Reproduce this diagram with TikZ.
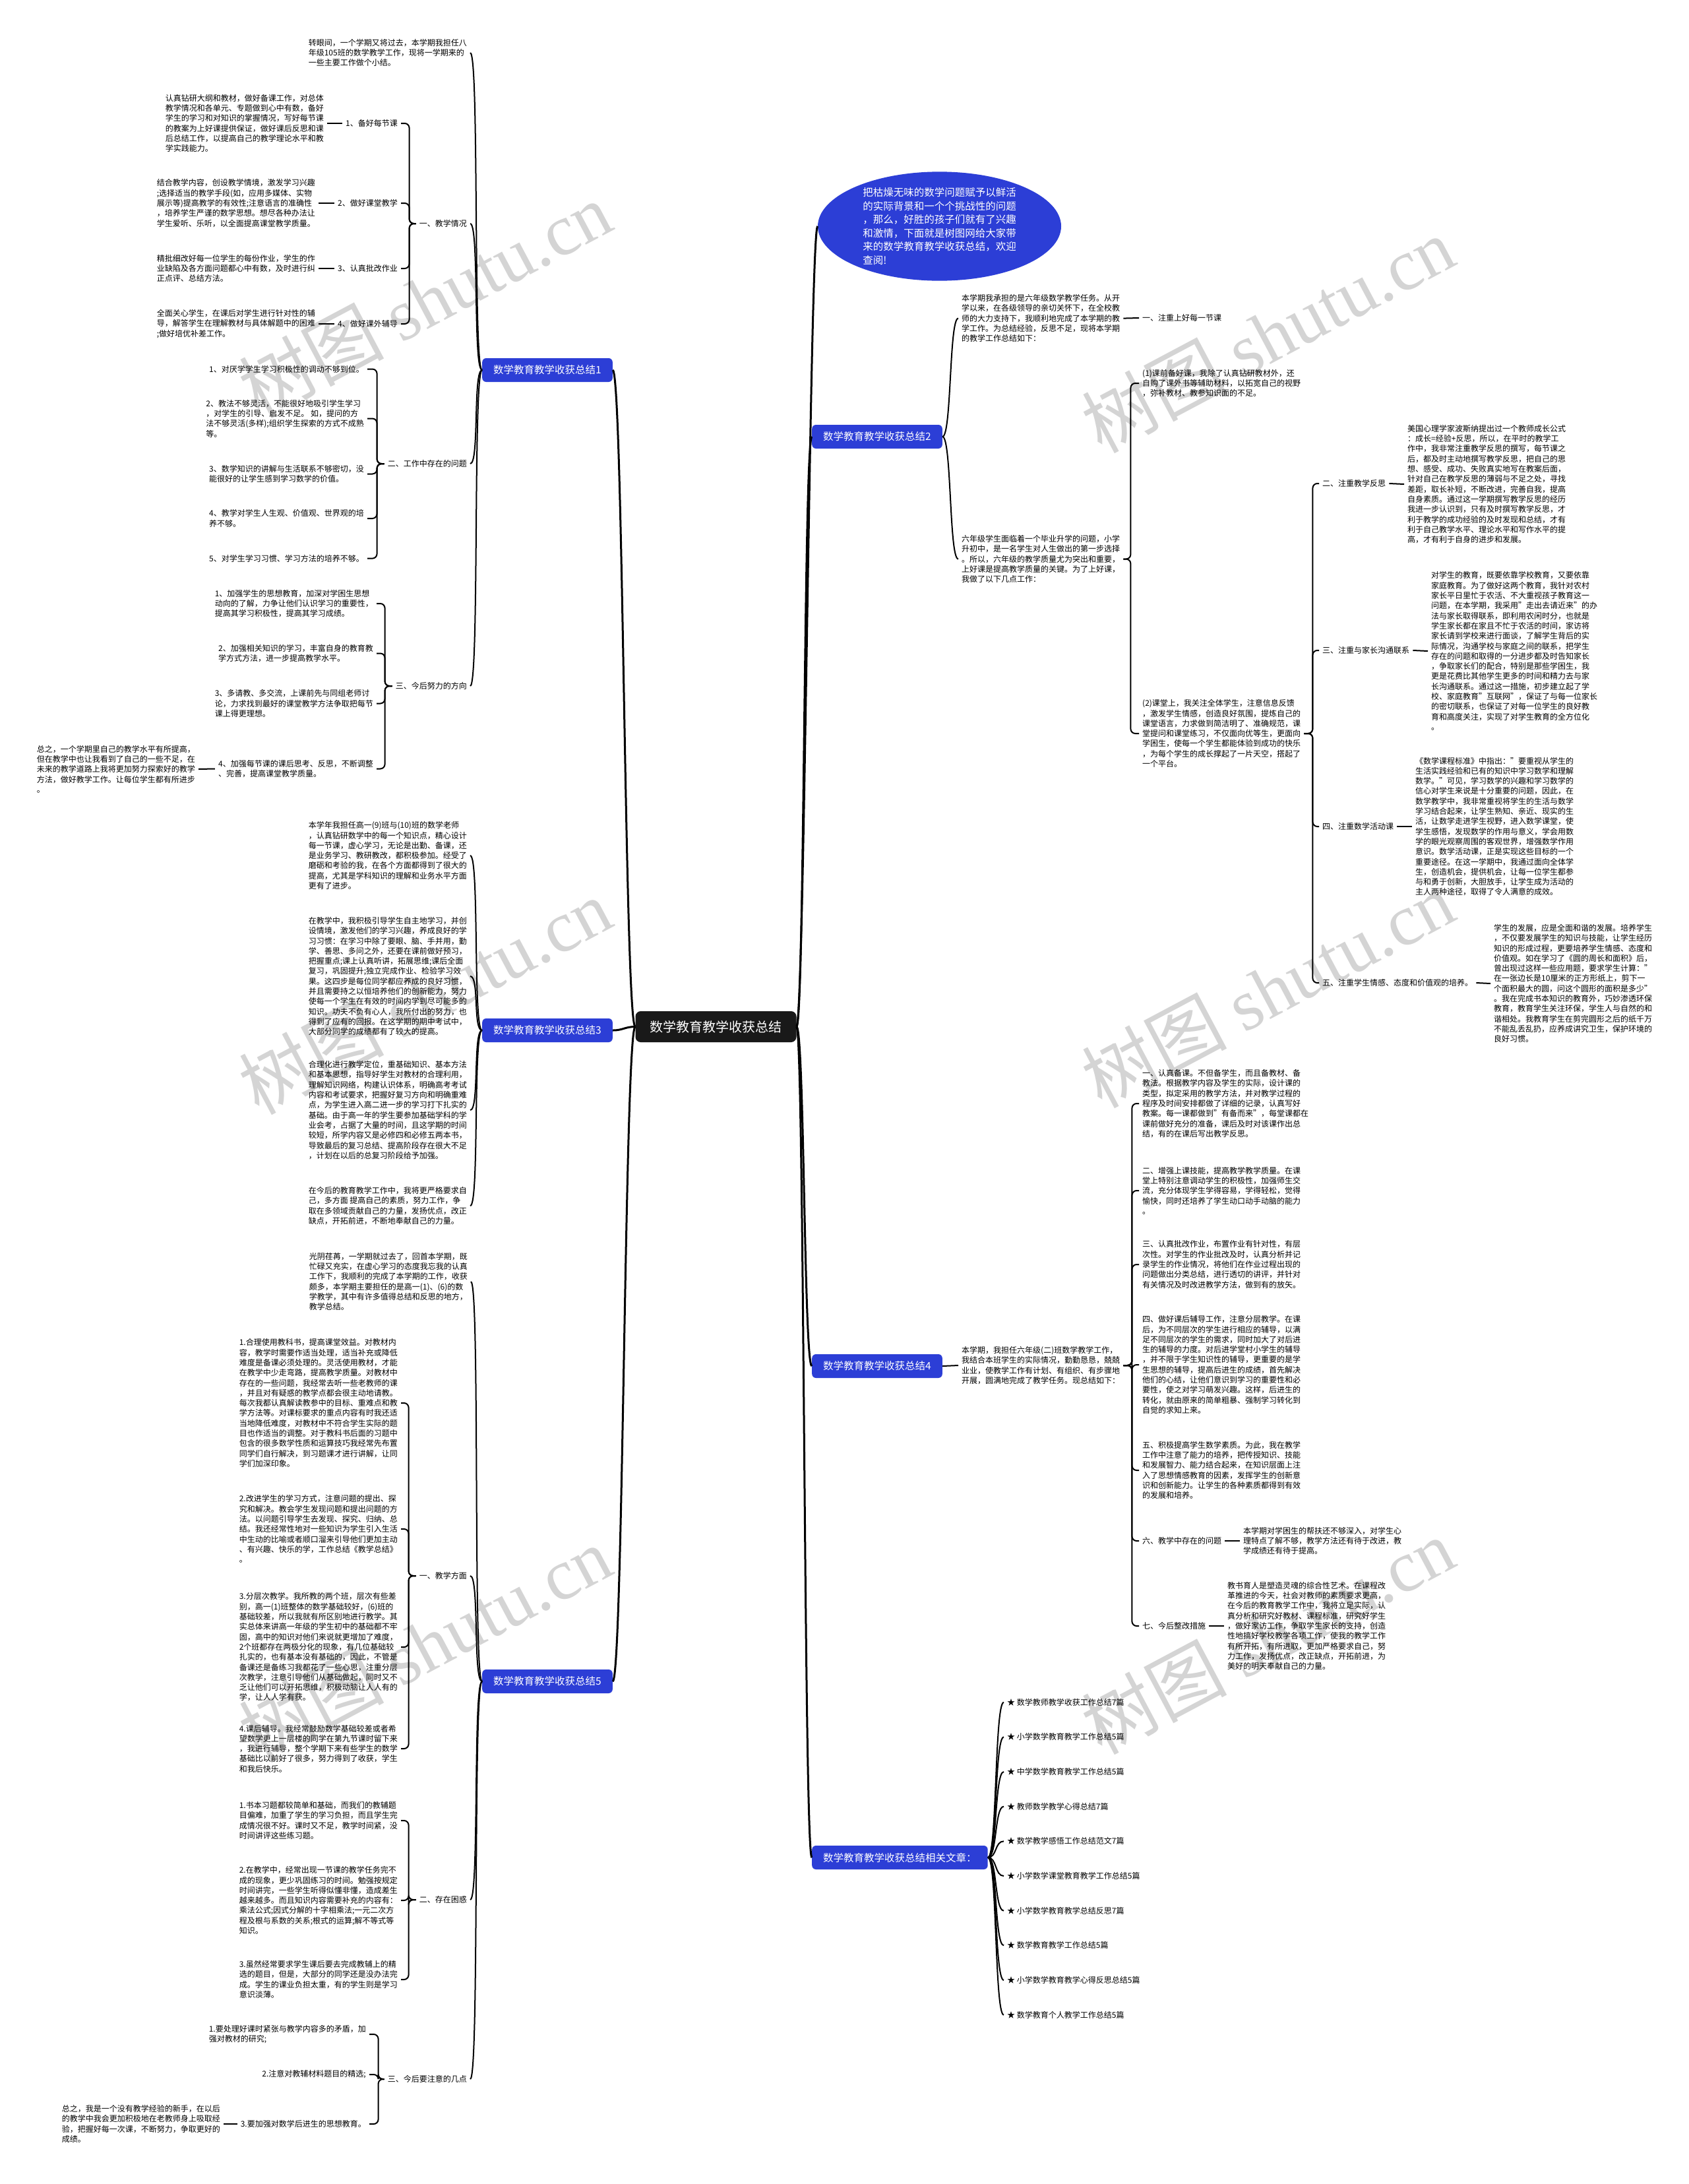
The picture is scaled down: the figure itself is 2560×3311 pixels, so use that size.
\documentclass[tikz,border=0pt]{standalone}
\usepackage{fontspec}
\setmainfont{Noto Sans CJK SC}
\newfontfamily\wmlatin{Liberation Serif}
\usetikzlibrary{positioning,shapes.geometric,backgrounds}
\definecolor{mblue}{RGB}{44,62,214}
\tikzset{
  txt/.style={font=\fontsize{12}{15.3}\selectfont, align=left, inner xsep=5pt, inner ysep=3pt},
  lbl/.style={font=\fontsize{12}{15.3}\selectfont, inner xsep=5pt, inner ysep=3pt},
  brnch/.style={fill=mblue, text=white, rounded corners=6pt, font=\fontsize{15.5}{18}\selectfont, minimum height=36pt, inner xsep=17pt},
  rootbox/.style={fill=black!90, text=white, rounded corners=8pt, font=\fontsize{20}{24}\selectfont, minimum height=47pt, inner xsep=22pt},
  trunk/.style={line width=3pt},
  lk/.style={line width=2pt},
  brc/.style={line width=2pt, rounded corners=7pt},
  wm/.style={font=\fontsize{110}{110}\selectfont, text=black!17, rotate=28},
}
\begin{document}
\begin{tikzpicture}[x=1pt,y=-1pt]
    \useasboundingbox (0,0) rectangle (2560,3311);

    % 底色与水印
    \begin{scope}[on background layer]
    \fill[white] (0,0) rectangle (2560,3311);
    \foreach \wx/\wy in {644/454, 1922/507, 644/1510, 1922/1500, 644/2492, 1922/2480}
        \node[wm] at (\wx,\wy) {树图 {\wmlatin shutu.cn}};
    \end{scope}

    % 中心主题
    \node[rootbox] (root) at (1085.5,1556.5) {数学教育教学收获总结};
    \node[ellipse, fill=mblue, text=white, minimum width=369pt, minimum height=150pt, inner sep=0pt,
          align=left, font=\fontsize{15.5}{20.5}\selectfont] (tip) at (1424.5,343)
        {把枯燥无味的数学问题赋予以鲜活\\的实际背景和一个个挑战性的问题\\，那么，好胜的孩子们就有了兴趣\\和激情，下面就是树图网给大家带\\来的数学教育教学收获总结，欢迎\\查阅!};

    % 分支
    \node[brnch, anchor=east] (b1) at (929,561) {数学教育教学收获总结1};
    \node[brnch, anchor=east] (b3) at (929,1562) {数学教育教学收获总结3};
    \node[brnch, anchor=east] (b5) at (929,2549) {数学教育教学收获总结5};
    \node[brnch, anchor=west] (b2) at (1231,662) {数学教育教学收获总结2};
    \node[brnch, anchor=west] (b4) at (1231,2071) {数学教育教学收获总结4};
    \node[brnch, anchor=west] (rel) at (1231,2816) {数学教育教学收获总结相关文章：};

    % ---------------- 总结1 ----------------
    \node[txt, anchor=east] (b1i) at (713,80) {转眼间，一个学期又将过去，本学期我担任八\\年级105班的数学教学工作，现将一学期来的\\一些主要工作做个小结。};
    \node[lbl, anchor=east] (b1a) at (713,339) {一、教学情况};
    \node[lbl, anchor=east] (b1a1) at (608,187) {1、备好每节课};
    \node[lbl, anchor=east] (b1a2) at (608,308) {2、做好课堂教学};
    \node[lbl, anchor=east] (b1a3) at (608,407) {3、认真批改作业};
    \node[lbl, anchor=east] (b1a4) at (608,491) {4、做好课外辅导};
    \node[txt, anchor=east] (b1a1t) at (496,187) {认真钻研大纲和教材，做好备课工作，对总体\\教学情况和各单元、专题做到心中有数，备好\\学生的学习和对知识的掌握情况，写好每节课\\的教案为上好课提供保证，做好课后反思和课\\后总结工作，以提高自己的教学理论水平和教\\学实践能力。};
    \node[txt, anchor=east] (b1a2t) at (483,308) {结合教学内容，创设教学情境，激发学习兴趣\\;选择适当的教学手段(如，应用多媒体、实物\\展示等)提高教学的有效性;注意语言的准确性\\，培养学生严谨的数学思想。想尽各种办法让\\学生爱听、乐听，以全面提高课堂教学质量。};
    \node[txt, anchor=east] (b1a3t) at (483,407) {精批细改好每一位学生的每份作业，学生的作\\业缺陷及各方面问题都心中有数，及时进行纠\\正点评、总结方法。};
    \node[txt, anchor=east] (b1a4t) at (483,491) {全面关心学生，在课后对学生进行针对性的辅\\导，解答学生在理解教材与具体解题中的困难\\;做好培优补差工作。};

    \node[lbl, anchor=east] (b1b) at (713,703) {二、工作中存在的问题};
    \node[txt, anchor=east] (b1b1) at (557,559.5) {1、对厌学学生学习积极性的调动不够到位。};
    \node[txt, anchor=east] (b1b2) at (557,634.5) {2、教法不够灵活，不能很好地吸引学生学习\\，对学生的引导、启发不足。 如，提问的方\\法不够灵活(多样);组织学生探索的方式不成熟\\等。};
    \node[txt, anchor=east] (b1b3) at (557,718.5) {3、数学知识的讲解与生活联系不够密切，没\\能很好的让学生感到学习数学的价值。};
    \node[txt, anchor=east] (b1b4) at (557,786) {4、教学对学生人生观、价值观、世界观的培\\养不够。};
    \node[txt, anchor=east] (b1b5) at (557,846.6) {5、对学生学习习惯、学习方法的培养不够。};

    \node[lbl, anchor=east] (b1c) at (713,1040) {三、今后努力的方向};
    \node[txt, anchor=east] (b1c1) at (571,915) {1、加强学生的思想教育，加深对学困生思想\\动向的了解，力争让他们认识学习的重要性，\\提高其学习积极性，提高其学习成绩。};
    \node[txt, anchor=east] (b1c2) at (571,990.5) {2、加强相关知识的学习，丰富自身的教育教\\学方式方法，进一步提高教学水平。};
    \node[txt, anchor=east] (b1c3) at (571,1066.5) {3、多请教、多交流，上课前先与同组老师讨\\论，力求找到最好的课堂教学方法争取把每节\\课上得更理想。};
    \node[txt, anchor=east] (b1c4) at (571,1165.5) {4、加强每节课的课后思考、反思，不断调整\\、完善，提高课堂教学质量。};
    \node[txt, anchor=east] (b1z) at (301,1166) {总之，一个学期里自己的教学水平有所提高，\\但在教学中也让我看到了自己的一些不足，在\\未来的教学道路上我将更加努力探索好的教学\\方法，做好教学工作。让每位学生都有所进步\\。};

    % ---------------- 总结3 ----------------
    \node[txt, anchor=east] (b3a) at (713,1297) {本学年我担任高一(9)班与(10)班的数学老师\\，认真钻研数学中的每一个知识点，精心设计\\每一节课，虚心学习，无论是出勤、备课，还\\是业务学习、教研教改，都积极参加。经受了\\磨砺和考验的我，在各个方面都得到了很大的\\提高，尤其是学科知识的理解和业务水平方面\\更有了进步。};
    \node[txt, anchor=east] (b3b) at (713,1480) {在教学中，我积极引导学生自主地学习，并创\\设情境，激发他们的学习兴趣，养成良好的学\\习习惯：在学习中除了要眼、脑、手并用，勤\\学、善思、多问之外，还要在课前做好预习，\\把握重点;课上认真听讲，拓展思维;课后全面\\复习，巩固提升;独立完成作业、检验学习效\\果。这四步是每位同学都应养成的良好习惯，\\并且需要持之以恒培养他们的创新能力，努力\\使每一个学生在有效的时间内学到尽可能多的\\知识。功夫不负有心人，我所付出的努力，也\\得到了应有的回报。在这学期的期中考试中，\\大部分同学的成绩都有了较大的提高。};
    \node[txt, anchor=east] (b3c) at (713,1683) {合理化进行教学定位，重基础知识、基本方法\\和基本思想，指导好学生对教材的合理利用，\\理解知识网络，构建认识体系，明确高考考试\\内容和考试要求，把握好复习方向和明确重难\\点，为学生进入高二进一步的学习打下扎实的\\基础。由于高一年的学生要参加基础学科的学\\业会考，占据了大量的时间，且这学期的时间\\较短，所学内容又是必修四和必修五两本书，\\导致最后的复习总结、提高阶段存在很大不足\\，计划在以后的总复习阶段给予加强。};
    \node[txt, anchor=east] (b3d) at (713,1828) {在今后的教育教学工作中，我将更严格要求自\\己，多方面 提高自己的素质，努力工作，争\\取在多领域贡献自己的力量，发扬优点，改正\\缺点，开拓前进，不断地奉献自己的力量。};

    % ---------------- 总结5 ----------------
    \node[txt, anchor=east] (b5i) at (714,1943) {光阴荏苒，一学期就过去了，回首本学期，既\\忙碌又充实，在虚心学习的态度我忘我的认真\\工作下，我顺利的完成了本学期的工作，收获\\颇多，本学期主要担任的是高一(1)、(6)的数\\学教学，其中有许多值得总结和反思的地方，\\教学总结。};
    \node[lbl, anchor=east] (b5a) at (713,2389) {一、教学方面};
    \node[txt, anchor=east] (b5a1) at (608,2127) {1.合理使用教科书，提高课堂效益。对教材内\\容，教学时需要作适当处理，适当补充或降低\\难度是备课必须处理的。灵活使用教材，才能\\在教学中少走弯路，提高教学质量。对教材中\\存在的一些问题，我经常去听一些老教师的课\\，并且对有疑惑的教学点都会很主动地请教。\\每次我都认真解读教参中的目标、重难点和教\\学方法等。对课标要求的重点内容有时我还适\\当地降低难度，对教材中不符合学生实际的题\\目也作适当的调整。对于教科书后面的习题中\\包含的很多数学性质和运算技巧我经常先布置\\同学们自行解决，到习题课才进行讲解，让同\\学们加深印象。};
    \node[txt, anchor=east] (b5a2) at (608,2318) {2.改进学生的学习方式，注意问题的提出、探\\究和解决。教会学生发现问题和提出问题的方\\法。以问题引导学生去发现、探究、归纳、总\\结。我还经常性地对一些知识为学生引入生活\\中生动的比喻或者顺口溜来引导他们更加主动\\、有兴趣、快乐的学，工作总结《教学总结》\\。};
    \node[txt, anchor=east] (b5a3) at (608,2497) {3.分层次教学。我所教的两个班，层次有些差\\别，高一(1)班整体的数学基础较好，(6)班的\\基础较差，所以我就有所区别地进行教学。其\\实总体来讲高一年级的学生初中的基础都不牢\\固，高中的知识对他们来说就更增加了难度，\\2个班都存在两极分化的现象，有几位基础较\\扎实的，也有基本没有基础的，因此，不管是\\备课还是备练习我都花了一些心思，注重分层\\次教学，注意引导他们从基础做起，同时又不\\乏让他们可以开拓思维，积极动脑让人人有的\\学，让人人学有获。};
    \node[txt, anchor=east] (b5a4) at (608,2651) {4.课后辅导。我经常鼓励数学基础较差或者希\\望数学更上一层楼的同学在第九节课时留下来\\，我进行辅导，整个学期下来有些学生的数学\\基础比以前好了很多，努力得到了收获，学生\\和我后快乐。};

    \node[lbl, anchor=east] (b5b) at (713,2880) {二、存在困惑};
    \node[txt, anchor=east] (b5b1) at (608,2760) {1.书本习题都较简单和基础，而我们的教辅题\\目偏难，加重了学生的学习负担，而且学生完\\成情况很不好。课时又不足，教学时间紧，没\\时间讲评这些练习题。};
    \node[txt, anchor=east] (b5b2) at (608,2881) {2.在教学中，经常出现一节课的教学任务完不\\成的现象，更少巩固练习的时间。勉强按规定\\时间讲完，一些学生听得似懂非懂，造成差生\\越来越多。而且知识内容需要补充的内容有：\\乘法公式;因式分解的十字相乘法;一元二次方\\程及根与系数的关系;根式的运算;解不等式等\\知识。};
    \node[txt, anchor=east] (b5b3) at (608,3001) {3.虽然经常要求学生课后要去完成教辅上的精\\选的题目，但是，大部分的同学还是没办法完\\成。学生的课业负担太重，有的学生则是学习\\意识淡薄。};

    \node[lbl, anchor=east] (b5c) at (713,3152) {三、今后要注意的几点};
    \node[txt, anchor=east] (b5c1) at (560,3084) {1.要处理好课时紧张与教学内容多的矛盾，加\\强对教材的研究;};
    \node[txt, anchor=east] (b5c2) at (560,3145) {2.注意对教辅材料题目的精选;};
    \node[txt, anchor=east] (b5c3) at (560,3220) {3.要加强对数学后进生的思想教育。};
    \node[txt, anchor=east] (b5z) at (339,3220) {总之，我是一个没有教学经验的新手，在以后\\的教学中我会更加积极地在老教师身上吸取经\\验，把握好每一次课，不断努力，争取更好的\\成绩。};

    % ---------------- 总结2 ----------------
    \node[txt, anchor=west] (b2i) at (1453,482.6) {本学期我承担的是六年级数学教学任务。从开\\学以来，在各级领导的亲切关怀下，在全校教\\师的大力支持下，我顺利地完成了本学期的教\\学工作。为总结经验，反思不足，现将本学期\\的教学工作总结如下：};
    \node[lbl, anchor=west] (b2ia) at (1727,482) {一、注重上好每一节课};
    \node[txt, anchor=west] (b2t) at (1453,847.5) {六年级学生面临着一个毕业升学的问题，小学\\升初中，是一名学生对人生做出的第一步选择\\。所以，六年级的教学质量尤为突出和重要，\\上好课是提高教学质量的关键。为了上好课，\\我做了以下几点工作：};
    \node[txt, anchor=west] (b2t1) at (1727,581) {(1)课前备好课，我除了认真钻研教材外，还\\自购了课外书等辅助材料，以拓宽自己的视野\\，弥补教材、教参知识面的不足。};
    \node[txt, anchor=west] (b2t2) at (1727,1112) {(2)课堂上，我关注全体学生，注意信息反馈\\，激发学生情感，创造良好氛围，提炼自己的\\课堂语言，力求做到简洁明了、准确规范，课\\堂提问和课堂练习，不仅面向优等生，更面向\\学困生，使每一个学生都能体验到成功的快乐\\，为每个学生的成长撑起了一片天空，搭起了\\一个平台。};
    \node[lbl, anchor=west] (b2b) at (2000,733) {二、注重教学反思};
    \node[txt, anchor=west] (b2bt) at (2129,734) {美国心理学家波斯纳提出过一个教师成长公式\\：成长=经验+反思，所以，在平时的教学工\\作中，我非常注重教学反思的撰写，每节课之\\后，都及时主动地撰写教学反思，把自己的思\\想、感受、成功、失败真实地写在教案后面，\\针对自己在教学反思的薄弱与不足之处，寻找\\差距，取长补短，不断改进，完善自我，提高\\自身素质。通过这一学期撰写教学反思的经历\\我进一步认识到，只有及时撰写教学反思，才\\利于教学的成功经验的及时发现和总结，才有\\利于自己教学水平、理论水平和写作水平的提\\高，才有利于自身的进步和发展。};
    \node[lbl, anchor=west] (b2c) at (2000,986) {三、注重与家长沟通联系};
    \node[txt, anchor=west] (b2ct) at (2165,987) {对学生的教育，既要依靠学校教育，又要依靠\\家庭教育。为了做好这两个教育，我针对农村\\家长平日里忙于农活、不大重视孩子教育这一\\问题，在本学期，我采用"走出去请近来"的办\\法与家长取得联系，即利用农闲时分，也就是\\学生家长都在家且不忙于农活的时间，家访将\\家长请到学校来进行面谈，了解学生背后的实\\际情况，沟通学校与家庭之间的联系，把学生\\存在的问题和取得的一分进步都及时告知家长\\，争取家长们的配合，特别是那些学困生，我\\更是花费比其他学生更多的时间和精力去与家\\长沟通联系。通过这一措施，初步建立起了学\\校、家庭教育"互联网"，保证了与每一位家长\\的密切联系，也保证了对每一位学生的良好教\\育和高度关注，实现了对学生教育的全方位化\\。};
    \node[lbl, anchor=west] (b2d) at (2000,1253) {四、注重数学活动课};
    \node[txt, anchor=west] (b2dt) at (2141,1253) {《数学课程标准》中指出："要重视从学生的\\生活实践经验和已有的知识中学习数学和理解\\数学。"可见，学习数学的兴趣和学习数学的\\信心对学生来说是十分重要的问题，因此，在\\数学教学中，我非常重视将学生的生活与数学\\学习结合起来，让学生熟知、亲近、现实的生\\活，让数学走进学生视野，进入数学课堂，使\\学生感悟，发现数学的作用与意义，学会用数\\学的眼光观察周围的客观世界，增强数学作用\\意识。数学活动课，正是实现这些目标的一个\\重要途径。在这一学期中，我通过面向全体学\\生，创造机会，提供机会，让每一位学生都参\\与和勇于创新，大胆放手，让学生成为活动的\\主人两种途径，取得了令人满意的成效。};
    \node[lbl, anchor=west] (b2e) at (2000,1490) {五、注重学生情感、态度和价值观的培养。};
    \node[txt, anchor=west] (b2et) at (2260,1491) {学生的发展，应是全面和谐的发展。培养学生\\，不仅要发展学生的知识与技能，让学生经历\\知识的形成过程，更要培养学生情感、态度和\\价值观。如在学习了《圆的周长和面积》后，\\曾出现过这样一些应用题，要求学生计算："\\在一张边长是10厘米的正方形纸上，剪下一\\个面积最大的圆，问这个圆形的面积是多少"\\。我在完成书本知识的教育外，巧妙渗透环保\\教育，教育学生关注环保，学生人与自然的和\\谐相处。我教育学生在剪完圆形之后的纸千万\\不能乱丢乱扔，应养成讲究卫生，保护环境的\\良好习惯。};

    % ---------------- 总结4 ----------------
    \node[txt, anchor=west] (b4i) at (1453,2070) {本学期，我担任六年级(二)班数学教学工作，\\我结合本班学生的实际情况，勤勤恳恳，兢兢\\业业，使教学工作有计划、有组织、有步骤地\\开展，圆满地完成了教学任务。现总结如下：};
    \node[txt, anchor=west] (b4a) at (1727,1673) {一、认真备课。不但备学生，而且备教材、备\\教法。根据教学内容及学生的实际，设计课的\\类型，拟定采用的教学方法，并对教学过程的\\程序及时间安排都做了详细的记录，认真写好\\教案。每一课都做到"有备而来"，每堂课都在\\课前做好充分的准备，课后及时对该课作出总\\结，有的在课后写出教学反思。};
    \node[txt, anchor=west] (b4b) at (1727,1805) {二、增强上课技能，提高教学教学质量。在课\\堂上特别注意调动学生的积极性，加强师生交\\流，充分体现学生学得容易，学得轻松，觉得\\愉快，同时还培养了学生动口动手动脑的能力\\。};
    \node[txt, anchor=west] (b4c) at (1727,1917) {三、认真批改作业，布置作业有针对性，有层\\次性。对学生的作业批改及时，认真分析并记\\录学生的作业情况，将他们在作业过程出现的\\问题做出分类总结，进行透切的讲评，并针对\\有关情况及时改进教学方法，做到有的放矢。};
    \node[txt, anchor=west] (b4d) at (1727,2069) {四、做好课后辅导工作，注意分层教学。在课\\后，为不同层次的学生进行相应的辅导，以满\\足不同层次的学生的需求，同时加大了对后进\\生的辅导的力度。对后进学堂村小学生的辅导\\，并不限于学生知识性的辅导，更重要的是学\\生思想的辅导，提高后进生的成绩，首先解决\\他们的心结，让他们意识到学习的重要性和必\\要性，使之对学习萌发兴趣。这样，后进生的\\转化，就由原来的简单粗暴、强制学习转化到\\自觉的求知上来。};
    \node[txt, anchor=west] (b4e) at (1727,2229) {五、积极提高学生数学素质。为此，我在教学\\工作中注意了能力的培养，把传授知识、技能\\和发展智力、能力结合起来，在知识层面上注\\入了思想情感教育的因素，发挥学生的创新意\\识和创新能力。让学生的各种素质都得到有效\\的发展和培养。};
    \node[lbl, anchor=west] (b4f) at (1727,2336) {六、教学中存在的问题};
    \node[txt, anchor=west] (b4ft) at (1880,2336) {本学期对学困生的帮扶还不够深入，对学生心\\理特点了解不够，教学方法还有待于改进，教\\学成绩还有待于提高。};
    \node[lbl, anchor=west] (b4g) at (1727,2465) {七、今后整改措施};
    \node[txt, anchor=west] (b4gt) at (1856,2465) {教书育人是塑造灵魂的综合性艺术。在课程改\\革推进的今天，社会对教师的素质要求更高，\\在今后的教育教学工作中，我将立足实际，认\\真分析和研究好教材、课程标准，研究好学生\\，做好家访工作，争取学生家长的支持，创造\\性地搞好学校教学各项工作，使我的教学工作\\有所开拓，有所进取，更加严格要求自己，努\\力工作，发扬优点，改正缺点，开拓前进，为\\美好的明天奉献自己的力量。};

    % ---------------- 相关文章 ----------------
    \foreach \t [count=\i from 0] in {数学教师教学收获工作总结7篇, 小学数学教育教学工作总结5篇,
        中学数学教育教学工作总结5篇, 教师数学教学心得总结7篇, 数学教学感悟工作总结范文7篇,
        小学数学课堂教育教学工作总结5篇, 小学数学教育教学总结反思7篇, 数学教育教学工作总结5篇,
        小学数学教育教学心得反思总结5篇, 数学教育个人教学工作总结5篇}
        \node[lbl, anchor=west] (art\i) at (1522,2580.7+52.66*\i) {★ \t};

    % ---------------- 连线 ----------------
    \foreach \b in {b1,b3,b5}
        \draw[trunk] (root.west) .. controls +(-16,0) and +(16,0) .. (\b.east);
    \foreach \b in {tip,b2,b4,rel}
        \draw[trunk] (root.east) .. controls +(12,0) and +(-12,0) .. (\b.west);

    \foreach \c in {b1i,b1a,b1b,b1c}
        \draw[lk] (b1.west) .. controls +(-14,0) and +(14,0) .. (\c.east);
    \foreach \c in {b1a1,b1a2,b1a3,b1a4}
        \draw[brc] (b1a.west) -- ++(-10,0) |- (\c.east);
    \foreach \c in {b1b1,b1b2,b1b3,b1b4,b1b5}
        \draw[brc] (b1b.west) -- ++(-11,0) |- (\c.east);
    \foreach \c in {b1c1,b1c2,b1c3,b1c4}
        \draw[brc] (b1c.west) -- ++(-11,0) |- (\c.east);
    \foreach \c in {1,2,3,4}
        \draw[lk] (b1a\c.west) -- (b1a\c t.east);
    \draw[lk] (b1c4.west) -- (b1z.east);

    \foreach \c in {b3a,b3b,b3c,b3d}
        \draw[lk] (b3.west) .. controls +(-14,0) and +(14,0) .. (\c.east);

    \foreach \c in {b5i,b5a,b5b,b5c}
        \draw[lk] (b5.west) .. controls +(-14,0) and +(14,0) .. (\c.east);
    \foreach \c in {b5a1,b5a2,b5a3,b5a4}
        \draw[brc] (b5a.west) -- ++(-11,0) |- (\c.east);
    \foreach \c in {b5b1,b5b2,b5b3}
        \draw[brc] (b5b.west) -- ++(-11,0) |- (\c.east);
    \foreach \c in {b5c1,b5c2,b5c3}
        \draw[brc] (b5c.west) -- ++(-9,0) |- (\c.east);
    \draw[lk] (b5c3.west) -- (b5z.east);

    \foreach \c in {b2i,b2t}
        \draw[lk] (b2.east) .. controls +(14,0) and +(-14,0) .. (\c.west);
    \draw[lk] (b2i.east) -- (b2ia.west);
    \foreach \c in {b2t1,b2t2}
        \draw[brc] (b2t.east) -- ++(11,0) |- (\c.west);
    \foreach \c in {b2b,b2c,b2d,b2e}
        \draw[brc] (b2t2.east) -- ++(13,0) |- (\c.west);
    \foreach \c in {b,c,d,e}
        \draw[lk] (b2\c.east) -- (b2\c t.west);

    \draw[lk] (b4.east) -- (b4i.west);
    \foreach \c in {b4a,b4b,b4c,b4d,b4e,b4f,b4g}
        \draw[brc] (b4i.east) -- ++(13,0) |- (\c.west);
    \draw[lk] (b4f.east) -- (b4ft.west);
    \draw[lk] (b4g.east) -- (b4gt.west);

    \foreach \i in {0,...,9}
        \draw[lk] (rel.east) .. controls +(14,0) and +(-14,0) .. (art\i.west);
\end{tikzpicture}
\end{document}
